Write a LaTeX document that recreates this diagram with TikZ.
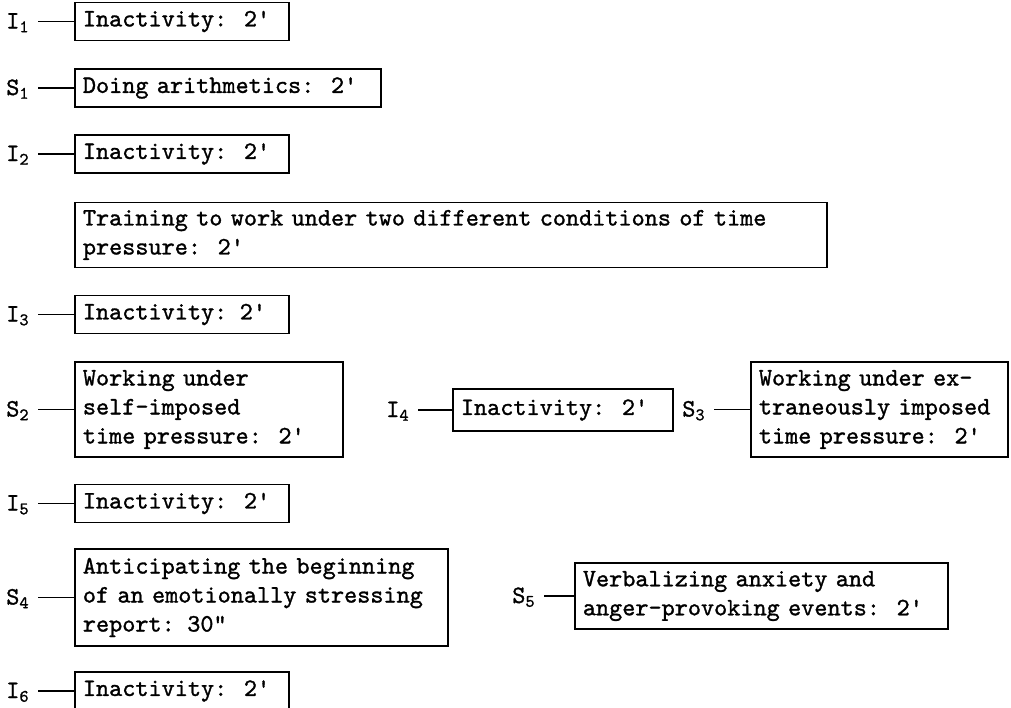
\documentclass[tikz,border=0pt]{standalone}
\usepackage{fontspec}
\setmonofont{lmmono10-regular.otf}[FakeBold=1.2]
\usetikzlibrary{positioning}
\newcommand\tg[2]{#1\textsubscript{#2}}

\begin{document}
\begin{tikzpicture}
[x=1pt, y=-1pt, line width=1.8pt, font=\fontsize{25}{29}\selectfont\ttfamily]

\tikzset{act/.style={rectangle, draw, anchor=west, align=left, inner xsep=8pt, inner ysep=0pt, minimum height=38pt, text width=#1},
         tag/.style={inner xsep=8pt, inner ysep=2pt, text height=14pt, text depth=0pt}}
\useasboundingbox (0,0) rectangle (1011,707);

% left column
\node[act=198pt]	(I1)	at (74,21.5)	{Inactivity:~~2'};
\node[act=290pt]	(S1)	at (74,88)	{Doing arithmetics:~~2'};
\node[act=198pt]	(I2)	at (74,154)	{Inactivity:~~2'};
\node[act=736pt, minimum height=65pt]	(TR)	at (74,235)	{Training to work under two different conditions of time\\pressure:~~2'};
\node[act=198pt]	(I3)	at (74,314.5)	{Inactivity: 2'};
\node[act=252pt, minimum height=95pt]	(S2)	at (74,409.5)	{Working under\\self-imposed\\time pressure:~~2'};
\node[act=198pt]	(I5)	at (74,503.5)	{Inactivity:~~2'};
\node[act=357pt, minimum height=97pt]	(S4)	at (74,597.5)	{Anticipating the beginning\\of an emotionally stressing\\report: 30"};
\node[act=198pt]	(I6)	at (74,691)	{Inactivity:~~2'};

% right part
\node[act=204pt, minimum height=42pt]	(I4)	at (452,410)	{Inactivity:~~2'};
\node[act=241pt, minimum height=95pt]	(S3)	at (750,409.5)	{Working under ex-\\traneously imposed\\time pressure:~~2'};
\node[act=357pt, minimum height=66pt]	(S5)	at (574,596)	{Verbalizing anxiety and\\anger-provoking events:~~2'};

\node[tag, left=36pt of I1]	(tI1)	{\tg I1};
\node[tag, left=36pt of S1]	(tS1)	{\tg S1};
\node[tag, left=36pt of I2]	(tI2)	{\tg I2};
\node[tag, left=36pt of I3]	(tI3)	{\tg I3};
\node[tag, left=36pt of S2]	(tS2)	{\tg S2};
\node[tag, left=36pt of I5]	(tI5)	{\tg I5};
\node[tag, left=36pt of S4]	(tS4)	{\tg S4};
\node[tag, left=36pt of I6]	(tI6)	{\tg I6};
\node[tag, left=34pt of I4]	(tI4)	{\tg I4};
\node[tag, left=36pt of S3]	(tS3)	{\tg S3};
\node[tag, left=30pt of S5]	(tS5)	{\tg S5};

\foreach \n in {I1,S1,I2,I3,S2,I5,S4,I6,I4,S3,S5}
  \draw (t\n) -- (\n);
\end{tikzpicture}
\end{document}
